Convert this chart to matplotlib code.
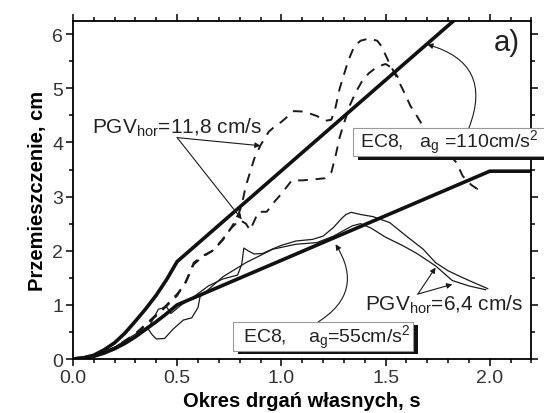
import numpy as np
import matplotlib
matplotlib.use("Agg")
import matplotlib.pyplot as plt
from matplotlib.patches import Rectangle
from matplotlib.ticker import MultipleLocator

plt.rcParams['font.family'] = ['Liberation Sans', 'DejaVu Sans']
plt.rcParams['mathtext.fontset'] = 'custom'
plt.rcParams['mathtext.rm'] = 'Liberation Sans'
plt.rcParams['mathtext.it'] = 'Liberation Sans'
plt.rcParams['mathtext.bf'] = 'Liberation Sans:bold'

# EC8 spectra (thick lines)
x_ec8_110 = [0, 0.05, 0.1, 0.15, 0.2, 0.25, 0.3, 0.35, 0.4, 0.45, 0.5, 2.0]
y_ec8_110 = [0, 0.02, 0.07, 0.17, 0.3, 0.48, 0.7, 0.93, 1.18, 1.47, 1.8, 6.83]
x_ec8_55 = [0, 0.05, 0.1, 0.15, 0.2, 0.25, 0.3, 0.35, 0.4, 0.45, 0.5, 2.0, 2.2]
y_ec8_55 = [0, 0.02, 0.05, 0.11, 0.19, 0.29, 0.41, 0.55, 0.69, 0.84, 1.0, 3.47, 3.47]

# PGV_hor = 11,8 cm/s (dashed)
x_pgv118_a = [0, 0.1, 0.2, 0.3, 0.4, 0.45, 0.5, 0.54, 0.58, 0.62, 0.67, 0.72, 0.76, 0.79,
              0.81, 0.83, 0.85, 0.87, 0.9, 0.94, 0.97, 1.0, 1.06, 1.11, 1.17, 1.21, 1.24,
              1.26, 1.28, 1.3, 1.32, 1.35, 1.38, 1.42, 1.46, 1.48, 1.52, 1.55, 1.58, 1.62,
              1.65, 1.68, 1.76, 1.84, 1.87, 1.91, 1.94, 1.92]
y_pgv118_a = [0, 0.04, 0.2, 0.45, 0.8, 0.98, 1.17, 1.42, 1.78, 1.9, 2.0, 2.2, 2.43, 2.62,
              2.85, 3.2, 3.45, 3.7, 3.95, 4.2, 4.3, 4.38, 4.58, 4.57, 4.49, 4.40, 4.42,
              4.65, 5.0, 5.25, 5.5, 5.78, 5.88, 5.92, 5.88, 5.78, 5.45, 5.23, 5.0, 4.67,
              4.49, 4.3, 3.95, 3.63, 3.38, 3.22, 3.14, 3.06]
x_pgv118_b = [0, 0.1, 0.2, 0.3, 0.4, 0.45, 0.5, 0.54, 0.58, 0.62, 0.67, 0.72, 0.76, 0.8,
              0.83, 0.85, 0.87, 0.89, 0.93, 0.97, 1.0, 1.05, 1.1, 1.16, 1.21, 1.24, 1.26,
              1.28, 1.3, 1.33, 1.36, 1.39, 1.42, 1.46, 1.5, 1.53, 1.56]
y_pgv118_b = [0, 0.05, 0.21, 0.47, 0.82, 1.0, 1.2, 1.4, 1.75, 1.88, 2.0, 2.22, 2.42, 2.57,
              2.5, 2.38, 2.55, 2.72, 2.72, 2.92, 3.05, 3.3, 3.3, 3.32, 3.34, 3.45, 3.75,
              4.1, 4.35, 4.7, 4.95, 5.15, 5.28, 5.4, 5.45, 5.38, 5.2]

# PGV_hor = 6,4 cm/s (thin)
x_pgv64_a = [0, 0.1, 0.2, 0.3, 0.34, 0.37, 0.41, 0.45, 0.47, 0.52, 0.58, 0.65, 0.72, 0.79,
             0.81, 0.82, 0.84, 0.87, 0.91, 0.95, 1.0, 1.07, 1.15, 1.2, 1.25, 1.29, 1.31,
             1.335, 1.38, 1.44, 1.52, 1.6, 1.68, 1.74, 1.8, 1.86, 1.93, 1.99]
y_pgv64_a = [0, 0.05, 0.22, 0.46, 0.55, 0.63, 0.92, 0.96, 0.84, 1.0, 1.15, 1.35, 1.48, 1.55,
             1.75, 2.05, 2.0, 1.94, 1.95, 2.02, 2.1, 2.18, 2.21, 2.27, 2.43, 2.6, 2.67,
             2.71, 2.67, 2.63, 2.52, 2.27, 2.03, 1.78, 1.63, 1.52, 1.4, 1.3]
x_pgv64_b = [0, 0.1, 0.2, 0.3, 0.36, 0.38, 0.40, 0.44, 0.48, 0.53, 0.57, 0.6, 0.61, 0.64,
             0.72, 0.83, 0.96, 1.07, 1.17, 1.25, 1.34, 1.38, 1.43, 1.5, 1.58, 1.65, 1.74,
             1.82, 1.9, 1.98]
y_pgv64_b = [0, 0.04, 0.19, 0.42, 0.56, 0.45, 0.37, 0.38, 0.55, 0.72, 0.76, 0.95, 1.15, 1.25,
             1.52, 1.78, 2.03, 2.12, 2.15, 2.27, 2.46, 2.5, 2.42, 2.25, 2.1, 1.95, 1.72,
             1.45, 1.35, 1.28]

fig = plt.figure(figsize=(5.44, 4.14), dpi=100)
ax = fig.add_axes([0.134, 0.1304, 0.843, 0.8172])

ax.plot(x_pgv64_a, y_pgv64_a, color='#1a1a1a', lw=0.9)
ax.plot(x_pgv64_b, y_pgv64_b, color='#1a1a1a', lw=0.9)
ax.plot(x_pgv118_a, y_pgv118_a, color='#1a1a1a', lw=1.4, ls=(0, (5, 4)))
ax.plot(x_pgv118_b, y_pgv118_b, color='#1a1a1a', lw=1.4, ls=(0, (5, 4)))
ax.plot(x_ec8_110, y_ec8_110, color='#111111', lw=2.6, solid_capstyle='butt')
ax.plot(x_ec8_55, y_ec8_55, color='#111111', lw=2.6, solid_capstyle='butt')

ax.set_xlim(0, 2.2)
ax.set_ylim(0, 6.25)
ax.xaxis.set_major_locator(MultipleLocator(0.5))
ax.xaxis.set_minor_locator(MultipleLocator(0.1))
ax.yaxis.set_major_locator(MultipleLocator(1))
ax.yaxis.set_minor_locator(MultipleLocator(0.5))
ax.xaxis.set_major_formatter(plt.FuncFormatter(lambda v, p: '%.1f' % v))
ax.tick_params(which='both', direction='out', top=True, right=True, width=1.1)
ax.tick_params(which='major', length=5, labelsize=14, pad=2, labelcolor='#333333')
ax.tick_params(which='minor', length=3)
ax.tick_params(axis='x', labeltop=False)
ax.tick_params(axis='y', labelright=False)
for s in ax.spines.values():
    s.set_linewidth(1.3)

ax.set_xlabel('Okres drgań własnych, s', fontsize=14.5, fontweight='bold', labelpad=4)
ax.set_ylabel('Przemieszczenie, cm', fontsize=14.5, fontweight='bold', labelpad=4)

ax.text(2.08, 5.85, 'a)', fontsize=21, ha='center', va='center', color='#222222')

arrow_kw = dict(arrowstyle='-|>', color='#1a1a1a', lw=0.8, mutation_scale=8,
                shrinkA=0, shrinkB=0)

# PGV 11,8 label and arrows
ax.text(0.09, 4.28, 'PGV$_{\\mathregular{hor}}$=11,8 cm/s', fontsize=15, va='center',
        color='#222222')
ax.annotate('', xy=(0.9, 3.94), xytext=(0.5, 4.09), arrowprops=arrow_kw)
ax.annotate('', xy=(0.81, 2.58), xytext=(0.5, 4.09), arrowprops=arrow_kw)

# PGV 6,4 label and arrows
ax.text(1.40, 1.01, 'PGV$_{\\mathregular{hor}}$=6,4 cm/s', fontsize=15, va='center',
        color='#222222', clip_on=False)
ax.annotate('', xy=(1.74, 1.69), xytext=(1.655, 1.2), arrowprops=arrow_kw)
ax.annotate('', xy=(1.82, 1.38), xytext=(1.655, 1.2), arrowprops=arrow_kw)

# EC8 110 box
ax.add_patch(Rectangle((1.366, 3.68), 0.95, 0.52, fc='#111111', ec='none',
                       clip_on=False, zorder=5))
ax.add_patch(Rectangle((1.346, 3.75), 0.95, 0.52, fc='white', ec='#999999', lw=0.8,
                       clip_on=False, zorder=6))
ax.text(1.375, 4.01, 'EC8,   a$_\\mathregular{g}$ =110cm/s$^\\mathregular{2}$',
        fontsize=14, va='center', color='#222222', zorder=7, clip_on=False)
ax.annotate('', xy=(1.70, 5.81), xytext=(1.9, 4.27),
            arrowprops=dict(arrow_kw, connectionstyle='arc3,rad=0.55'), zorder=4)

# EC8 55 box
ax.add_patch(Rectangle((0.79, 0.095), 0.864, 0.53, fc='#111111', ec='none', zorder=5))
ax.add_patch(Rectangle((0.766, 0.15), 0.864, 0.53, fc='white', ec='#999999', lw=0.8,
                       zorder=6))
ax.text(0.815, 0.415, 'EC8,    a$_\\mathregular{g}$=55cm/s$^\\mathregular{2}$',
        fontsize=14, va='center', color='#222222', zorder=7)
ax.annotate('', xy=(1.26, 2.12), xytext=(1.175, 0.68),
            arrowprops=dict(arrow_kw, connectionstyle='arc3,rad=0.5'), zorder=4)

fig.savefig('out.png', dpi=100)
